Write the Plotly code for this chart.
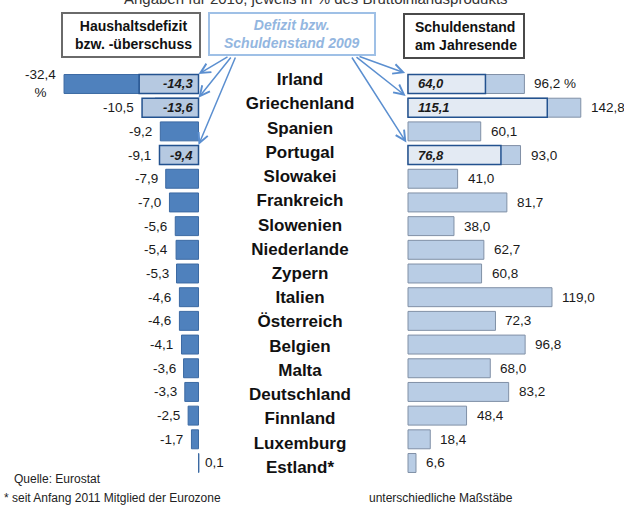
import plotly.graph_objects as go

# ---------------- data ----------------
countries = ["Irland", "Griechenland", "Spanien", "Portugal", "Slowakei", "Frankreich",
             "Slowenien", "Niederlande", "Zypern", "Italien", "Österreich", "Belgien",
             "Malta", "Deutschland", "Finnland", "Luxemburg", "Estland*"]
deficit_2010 = [-32.4, -10.5, -9.2, -9.1, -7.9, -7.0, -5.6, -5.4, -5.3, -4.6, -4.6,
                -4.1, -3.6, -3.3, -2.5, -1.7, 0.1]
debt_2010 = [96.2, 142.8, 60.1, 93.0, 41.0, 81.7, 38.0, 62.7, 60.8, 119.0, 72.3,
             96.8, 68.0, 83.2, 48.4, 18.4, 6.6]
hl_countries = ["Irland", "Griechenland", "Portugal"]
deficit_2009 = [-14.3, -13.6, -9.4]
debt_2009 = [64.0, 115.1, 76.8]

title_text = "Angaben für 2010, jeweils in % des Bruttoinlandsprodukts"
head_left = "Haushaltsdefizit<br>bzw. -überschuss"
head_mid = "Defizit bzw.<br>Schuldenstand 2009"
head_right = "Schuldenstand<br>am Jahresende"
source_text = "Quelle: Eurostat"
note_text = "* seit Anfang 2011 Mitglied der Eurozone"
scale_text = "unterschiedliche Maßstäbe"

# ---------------- layout helpers ----------------
W, H = 624, 506
FONT = "Arial, Liberation Sans, sans-serif"


def px(x):
    return x / W


def py(y):
    return 1 - y / H


def fmt(v):
    return f"{v:.1f}".replace(".", ",")


n = len(countries)
ROW0, ROWN = 84.0, 463.0
step = (ROWN - ROW0) / (n - 1)
LAB0, LABN = 81.0, 468.5
lstep = (LABN - LAB0) / (n - 1)

L0, LS = 198.5, 4.15     # left axis zero pixel, px per unit
R0, RS = 408.0, 1.21     # right axis zero pixel, px per unit

DARK = "#4f81bd"
DARK_LINE = "#3c6aa3"
LIGHT = "#b9cde5"
LIGHT_LINE = "#8090a6"
HL_LEFT = "#b6c9e1"
HL_RIGHT = "#e3eaf3"
HL_LINE = "#23528f"
ARROW = "#5b8fd0"

fig = go.Figure()

# left: deficits 2010
fig.add_trace(go.Bar(
    x=deficit_2010, y=countries, orientation="h", xaxis="x", yaxis="y",
    marker=dict(color=DARK, line=dict(color=DARK_LINE, width=1)),
    width=0.8, hoverinfo="skip", showlegend=False))
# left: 2009 overlays
fig.add_trace(go.Bar(
    x=deficit_2009, y=hl_countries, orientation="h", xaxis="x", yaxis="y",
    marker=dict(color=HL_LEFT, line=dict(color=HL_LINE, width=1.5)),
    width=0.8, hoverinfo="skip", showlegend=False))
# right: debt 2010
fig.add_trace(go.Bar(
    x=debt_2010, y=countries, orientation="h", xaxis="x2", yaxis="y",
    marker=dict(color=LIGHT, line=dict(color=LIGHT_LINE, width=1)),
    width=0.8, hoverinfo="skip", showlegend=False))
# right: 2009 overlays
fig.add_trace(go.Bar(
    x=debt_2009, y=hl_countries, orientation="h", xaxis="x2", yaxis="y",
    marker=dict(color=HL_RIGHT, line=dict(color=HL_LINE, width=1.5)),
    width=0.8, hoverinfo="skip", showlegend=False))
# middle: country names
fig.add_trace(go.Scatter(
    x=[0] * n, y=countries, mode="text", xaxis="x3", yaxis="y3",
    text=[f"<b>{c}</b>" for c in countries], textposition="middle center",
    textfont=dict(family=FONT, size=17, color="#111111"),
    hoverinfo="skip", showlegend=False))

ann = []
hl_left = dict(zip(hl_countries, deficit_2009))
hl_right = dict(zip(hl_countries, debt_2009))

# value labels left
for i, (c, v) in enumerate(zip(countries, deficit_2010)):
    if v < 0:
        anchor = min(v, hl_left.get(c, v))
        txt = fmt(v) + ("<br>%" if i == 0 else "")
        ann.append(dict(x=anchor, y=c, xref="x", yref="y", text=txt, showarrow=False,
                        xanchor="right", xshift=-6, align="center",
                        font=dict(family=FONT, size=13.5, color="#1a1a1a")))
    else:
        ann.append(dict(x=v, y=c, xref="x", yref="y", text=fmt(v), showarrow=False,
                        xanchor="left", xshift=4,
                        font=dict(family=FONT, size=13.5, color="#1a1a1a")))

# value labels right
for i, (c, v) in enumerate(zip(countries, debt_2010)):
    txt = fmt(v) + (" %" if i == 0 else "")
    ann.append(dict(x=v, y=c, xref="x2", yref="y", text=txt, showarrow=False,
                    xanchor="left", xshift=8,
                    font=dict(family=FONT, size=13.5, color="#1a1a1a")))

# 2009 overlay labels
for c, v in zip(hl_countries, deficit_2009):
    ann.append(dict(x=0, y=c, xref="x", yref="y", text=f"<i><b>{fmt(v)}</b></i>",
                    showarrow=False, xanchor="right", xshift=-4,
                    font=dict(family=FONT, size=13, color="#1a1a1a")))
for c, v in zip(hl_countries, debt_2009):
    ann.append(dict(x=0, y=c, xref="x2", yref="y", text=f"<i><b>{fmt(v)}</b></i>",
                    showarrow=False, xanchor="left", xshift=8,
                    font=dict(family=FONT, size=13, color="#1a1a1a")))

# arrows from the 2009 box
left_tails = [(229, 56), (232, 56), (236, 56)]
right_tails = [(358, 56), (355, 56), (351, 56)]
for k, c in enumerate(hl_countries):
    idx = countries.index(c)
    hy = ROW0 + step * (idx - 0.42)
    tx, ty = left_tails[k]
    ann.append(dict(x=0, y=idx - 0.42, xref="x", yref="y", text="", showarrow=True,
                    ax=tx - L0, ay=ty - hy, arrowhead=5, arrowsize=1.3, arrowwidth=1.5,
                    arrowcolor=ARROW, standoff=0))
    tx, ty = right_tails[k]
    ann.append(dict(x=0, y=idx - 0.42, xref="x2", yref="y", text="", showarrow=True,
                    ax=tx - R0, ay=ty - hy, arrowhead=5, arrowsize=1.3, arrowwidth=1.5,
                    arrowcolor=ARROW, standoff=3))

# header texts
ann.append(dict(x=px(133), y=py(35), xref="paper", yref="paper", text=f"<b>{head_left}</b>",
                showarrow=False, xanchor="center", yanchor="middle", align="center",
                font=dict(family=FONT, size=14, color="#111111")))
ann.append(dict(x=px(292), y=py(34), xref="paper", yref="paper",
                text=f"<i><b>{head_mid}</b></i>", showarrow=False, xanchor="center",
                yanchor="middle", align="center",
                font=dict(family=FONT, size=14, color="#93b6e0")))
ann.append(dict(x=px(413), y=py(36), xref="paper", yref="paper", text=f"<b>{head_right}</b>",
                showarrow=False, xanchor="left", yanchor="middle", align="left",
                font=dict(family=FONT, size=14, color="#111111")))

# title (cut at the top edge, as in the original) and notes
ann.append(dict(x=px(316), y=1, xref="paper", yref="paper", text=title_text,
                showarrow=False, xanchor="center", yanchor="middle", yshift=2,
                font=dict(family=FONT, size=15, color="#333333")))
ann.append(dict(x=px(12), y=py(479), xref="paper", yref="paper", text=source_text,
                showarrow=False, xanchor="left", yanchor="middle",
                font=dict(family=FONT, size=12, color="#222222")))
ann.append(dict(x=px(2), y=py(498), xref="paper", yref="paper", text=note_text,
                showarrow=False, xanchor="left", yanchor="middle",
                font=dict(family=FONT, size=12, color="#222222")))
ann.append(dict(x=px(367), y=py(498), xref="paper", yref="paper", text=scale_text,
                showarrow=False, xanchor="left", yanchor="middle",
                font=dict(family=FONT, size=12, color="#222222")))

shapes = [
    dict(type="rect", xref="paper", yref="paper", x0=px(62), x1=px(200), y0=py(57), y1=py(13),
         line=dict(color="#6a6a6a", width=2), fillcolor="white", layer="below"),
    dict(type="rect", xref="paper", yref="paper", x0=px(209), x1=px(375), y0=py(55), y1=py(13),
         line=dict(color="#9fc0e6", width=2), fillcolor="white", layer="below"),
    dict(type="rect", xref="paper", yref="paper", x0=px(404), x1=px(524), y0=py(58), y1=py(14),
         line=dict(color="#4a4a4a", width=2), fillcolor="white", layer="below"),
]

hidden = dict(showgrid=False, zeroline=False, showticklabels=False, ticks="",
              showline=False, fixedrange=True)

fig.update_layout(
    width=W, height=H, autosize=False,
    margin=dict(l=0, r=0, t=0, b=0),
    paper_bgcolor="white", plot_bgcolor="rgba(0,0,0,0)",
    barmode="overlay", showlegend=False,
    xaxis=dict(domain=[0, px(200)], range=[(0 - L0) / LS, (200 - L0) / LS], **hidden),
    xaxis2=dict(domain=[px(400), 1], range=[(400 - R0) / RS, (624 - R0) / RS],
                anchor="y", **hidden),
    xaxis3=dict(domain=[px(200), px(400)], range=[-1, 1], anchor="y3", **hidden),
    yaxis=dict(domain=[py(ROWN + step / 2), py(ROW0 - step / 2)], type="category",
               categoryorder="array", categoryarray=countries, range=[n - 0.5, -0.5],
               anchor="x", **hidden),
    yaxis3=dict(domain=[py(LABN + lstep / 2), py(LAB0 - lstep / 2)], type="category",
                categoryorder="array", categoryarray=countries, range=[n - 0.5, -0.5],
                anchor="x3", **hidden),
    annotations=ann, shapes=shapes,
)

fig.write_html(
    "out.html",
    config={"displayModeBar": False},
    post_script="document.body.style.margin='0';document.body.style.overflow='hidden';",
)
